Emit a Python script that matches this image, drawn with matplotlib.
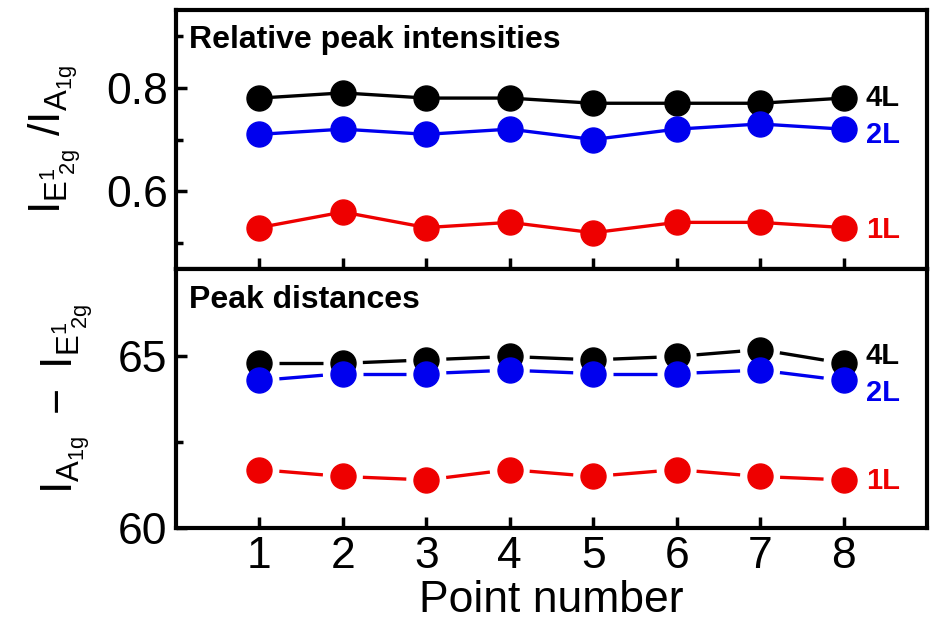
import numpy as np
import matplotlib
matplotlib.use("Agg")
import matplotlib.pyplot as plt

plt.rcParams['font.family'] = ['Liberation Sans', 'DejaVu Sans']
plt.rcParams['mathtext.fontset'] = 'custom'
plt.rcParams['mathtext.rm'] = 'Liberation Sans'
plt.rcParams['mathtext.it'] = 'Liberation Sans'

points = [1, 2, 3, 4, 5, 6, 7, 8]

# intensity ratio E1_2g / A1g
ratio_4L = [0.78, 0.79, 0.78, 0.78, 0.77, 0.77, 0.77, 0.78]
ratio_2L = [0.71, 0.72, 0.71, 0.72, 0.70, 0.72, 0.73, 0.72]
ratio_1L = [0.53, 0.56, 0.53, 0.54, 0.52, 0.54, 0.54, 0.53]

# peak distance A1g - E1_2g (cm-1)
dist_4L = [64.8, 64.8, 64.9, 65.0, 64.9, 65.0, 65.2, 64.8]
dist_2L = [64.3, 64.5, 64.5, 64.6, 64.5, 64.5, 64.6, 64.3]
dist_1L = [61.7, 61.5, 61.4, 61.7, 61.5, 61.7, 61.5, 61.4]

layers = ['4L', '2L', '1L']
colors = ['black', '#0000ee', '#ee0000']

fig = plt.figure(figsize=(9.32, 6.27), dpi=100)
ax1 = fig.add_axes([0.1888, 0.571, 0.8058, 0.413])
ax2 = fig.add_axes([0.1888, 0.158, 0.8058, 0.413])


def gapped_line(ax, x, y, color, gap=20):
    # segments between markers, shortened by `gap` pixels at each end
    trans = ax.transData
    pts = trans.transform(np.column_stack([x, y]))
    inv = trans.inverted()
    for p, q in zip(pts[:-1], pts[1:]):
        d = q - p
        u = d / np.hypot(*d)
        a = inv.transform(p + u * gap)
        b = inv.transform(q - u * gap)
        ax.plot([a[0], b[0]], [a[1], b[1]], color=color, lw=2.4,
                solid_capstyle='butt', zorder=2)


def style(ax):
    for s in ax.spines.values():
        s.set_linewidth(3)
    ax.set_xlim(0, 9)
    ax.set_xticks(points)
    ax.tick_params(axis='both', which='major', direction='in', length=8,
                   width=2.5, labelsize=32, pad=6)
    ax.tick_params(axis='both', which='minor', direction='in', length=5,
                   width=2.5)
    ax.tick_params(axis='x', which='minor', bottom=False)


# top panel: relative intensities
for vals, c in zip([ratio_4L, ratio_2L, ratio_1L], colors):
    ax1.plot(points, vals, '-o', color=c, lw=2.4, ms=18, zorder=3)
style(ax1)
ax1.set_ylim(0.45, 0.95)
ax1.set_yticks([0.6, 0.8])
ax1.set_yticks([0.5, 0.7, 0.9], minor=True)
ax1.set_yticklabels(['0.6', '0.8'])
ax1.tick_params(axis='x', labelbottom=False)
ax1.text(0.018, 0.884, 'Relative peak intensities', transform=ax1.transAxes,
         fontsize=23, fontweight='bold', va='center', ha='left')
ax1.set_ylabel(r'$\mathregular{I_{E^1_{\ 2g}}\ /I_{A_{1g}}}$', fontsize=32,
               labelpad=16)
for lab, vals, c, dy in zip(layers, [ratio_4L, ratio_2L, ratio_1L], colors,
                            [0, -4, -2]):
    ax1.annotate(lab, (points[-1], vals[-1]), xytext=(16, dy),
                 textcoords='offset points', color=c, fontsize=21,
                 fontweight='bold', va='center', ha='left')

# bottom panel: peak distances
for vals, c in zip([dist_4L, dist_2L, dist_1L], colors):
    ax2.plot(points, vals, 'o', color=c, ms=18, zorder=3)
style(ax2)
ax2.set_ylim(60, 67.55)
ax2.set_yticks([60, 65])
ax2.set_yticks([62.5], minor=True)
ax2.text(0.018, 0.88, 'Peak distances', transform=ax2.transAxes,
         fontsize=23, fontweight='bold', va='center', ha='left')
ax2.set_ylabel(r'$\mathregular{I_{A_{1g}}\ -\ I_{E^1_{\ 2g}}}$', fontsize=32,
               labelpad=16)
ax2.set_xlabel('Point number', fontsize=32, labelpad=2)
for lab, vals, c, dy in zip(layers, [dist_4L, dist_2L, dist_1L], colors,
                            [5, -9, -1]):
    ax2.annotate(lab, (points[-1], vals[-1]), xytext=(16, dy),
                 textcoords='offset points', color=c, fontsize=21,
                 fontweight='bold', va='center', ha='left')

fig.canvas.draw()
for vals, c in zip([dist_4L, dist_2L, dist_1L], colors):
    gapped_line(ax2, points, vals, c)

fig.savefig('out.png', dpi=100)
